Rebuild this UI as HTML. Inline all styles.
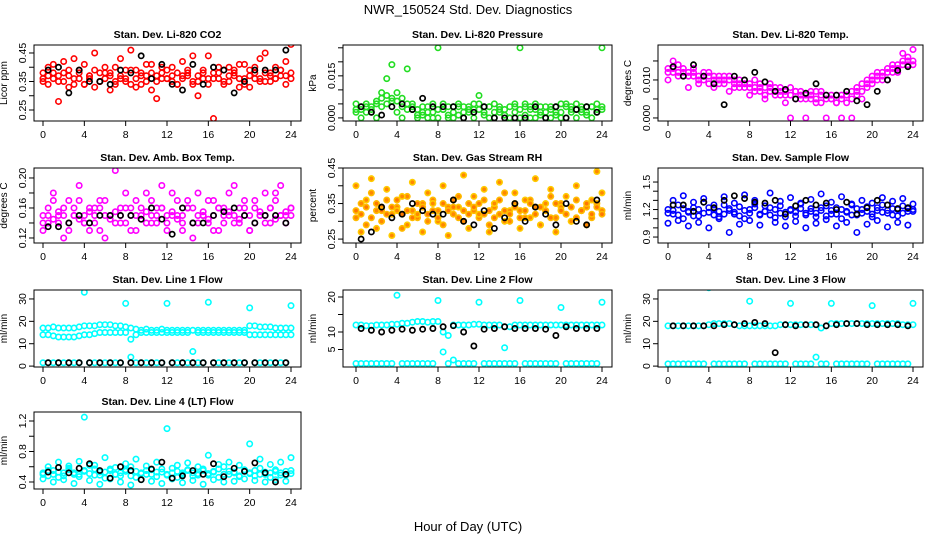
<!DOCTYPE html>
<html><head><meta charset="utf-8">
<style>
body{margin:0;background:#fff;}
svg{display:block;font-family:"Liberation Sans",Arial,sans-serif;}
</style></head>
<body>
<svg id="chart" width="936" height="540" viewBox="0 0 936 540">
<rect width="936" height="540" fill="#fff"/>
<text x="468" y="14" text-anchor="middle" font-size="13">NWR_150524  Std. Dev. Diagnostics</text>
<text x="468" y="531" text-anchor="middle" font-size="13">Hour of Day (UTC)</text>
</svg>
<script>
const hourTicks = [0,4,8,12,16,20,24];

// Panel 1: CO2
const co2A = [.38,.40,.36,.35,.42,.37,.34,.39,.41,.36,.33,.38,.40,.37,.35,.43,.36,.34,.39,.38,.41,.32,.37,.40,.36,.35,.38,.42,.37,.34,.30,.39,.44,.36,.38,.35,.40,.37,.33,.41,.39,.36,.43,.38,.35,.40,.37,.42,.36];
const co2B = [.35,.37,.41,.28,.38,.33,.43,.36,.34,.37,.45,.35,.38,.32,.40,.36,.39,.46,.33,.37,.35,.41,.29,.38,.36,.40,.34,.37,.39,.44,.35,.38,.36,.22,.40,.34,.37,.39,.41,.36,.33,.38,.35,.45,.37,.36,.39,.34,.48];
const co2C = [.36,.34,.38,.37,.35,.39,.36,.38,.34,.37,.39,.35,.36,.38,.34,.37,.35,.39,.36,.34,.37,.38,.35,.36,.39,.37,.34,.36,.38,.35,.37,.36,.34,.38,.36,.39,.35,.38,.36,.34,.37,.40,.36,.35,.38,.36,.39,.37,.38];
const co2Black = [.39,.40,.31,.39,.35,.35,.34,.39,.38,.44,.36,.41,.34,.32,.41,.34,.40,.39,.31,.35,.39,.39,.39,.46];
// Panel 2: Pressure
const presA = [.005,.003,.004,.002,.005,.004,.014,.019,.006,.004,.0175,.003,.001,.002,.004,.005,.003,.005,.001,.004,.005,.002,.004,.003,.005,.001,.004,.005,.002,.001,.004,.005,.003,.001,.004,.005,.002,.004,.003,.001,.005,.004,.002,.005,.003,.001,.004,.005,.003];
const presB = [.002,.000,.005,.003,.000,.009,.005,.007,.002,.000,.003,.005,.000,.004,.002,.000,.025,.003,.000,.002,.004,.000,.003,.005,.008,.002,.004,.000,.003,.001,.000,.004,.025,.005,.000,.003,.001,.000,.004,.002,.000,.005,.003,.000,.002,.004,.000,.003,.025];
const presC = [.003,.004,.002,.004,.006,.007,.008,.006,.009,.007,.005,.004,.003,.001,.000,.002,.000,.003,.004,.000,.001,.004,.002,.000,.003,.004,.000,.002,.004,.003,.000,.002,.000,.004,.003,.000,.004,.002,.000,.004,.002,.000,.004,.003,.004,.002,.004,.002,.004];
const presBlack = [.004,.002,.001,.004,.005,.003,.007,.004,.004,.004,.000,.002,.004,.000,.000,.000,.000,.004,.000,.004,.000,.003,.004,.002];
// Panel 3: Li-820 temp
const tempA = [.012,.013,.014,.013,.012,.011,.011,.012,.011,.010,.011,.010,.010,.009,.010,.009,.008,.008,.009,.008,.007,.007,.008,.007,.006,.007,.006,.006,.007,.005,.006,.006,.005,.006,.005,.006,.007,.008,.009,.010,.011,.012,.011,.013,.014,.014,.015,.016,.014];
const tempB = [.010,.015,.011,.012,.008,.013,.009,.010,.012,.008,.009,.011,.007,.010,.008,.009,.006,.010,.007,.005,.009,.008,.006,.004,.000,.007,.005,.000,.006,.004,.007,.000,.005,.004,.000,.006,.000,.007,.005,.008,.009,.010,.012,.010,.013,.012,.017,.015,.018];
const tempC = [.013,.012,.012,.011,.011,.012,.010,.011,.009,.011,.010,.009,.011,.008,.009,.008,.009,.007,.008,.006,.008,.006,.007,.006,.008,.005,.007,.005,.005,.007,.004,.005,.006,.004,.006,.004,.005,.006,.007,.009,.010,.011,.010,.012,.012,.013,.014,.014,.015];
const tempBlack = [.0135,.011,.014,.011,.009,.0035,.011,.010,.012,.0095,.007,.0075,.005,.0065,.009,.006,.006,.007,.0045,.0035,.007,.010,.0125,.0135];
// Panel 4: Amb box temp
const ambA = [.15,.14,.17,.15,.16,.13,.15,.17,.14,.16,.15,.13,.17,.15,.14,.16,.18,.15,.13,.16,.14,.17,.15,.16,.14,.18,.15,.13,.17,.16,.14,.15,.17,.13,.16,.15,.18,.14,.16,.15,.13,.17,.15,.14,.16,.18,.15,.14,.16];
const ambB = [.13,.16,.18,.14,.12,.17,.15,.19,.14,.13,.16,.17,.12,.15,.21,.14,.16,.13,.17,.15,.18,.14,.16,.19,.13,.15,.17,.14,.16,.12,.18,.15,.14,.17,.13,.16,.15,.19,.14,.17,.13,.16,.15,.18,.14,.17,.19,.15,.16];
const ambC = [.14,.15,.145,.155,.15,.14,.16,.145,.15,.155,.14,.16,.15,.145,.155,.15,.14,.16,.15,.145,.155,.15,.14,.16,.15,.155,.145,.15,.16,.14,.15,.155,.145,.15,.16,.14,.155,.15,.145,.16,.15,.14,.155,.15,.16,.145,.15,.155,.15];
const ambBlack = [.135,.135,.14,.15,.14,.15,.15,.15,.15,.145,.16,.145,.125,.16,.14,.14,.15,.155,.16,.15,.14,.15,.15,.14];
// Panel 5: RH
const rhA = [.31,.35,.29,.38,.33,.30,.36,.32,.34,.28,.37,.33,.31,.35,.30,.36,.33,.29,.34,.32,.37,.30,.35,.33,.31,.36,.29,.34,.32,.38,.30,.35,.33,.31,.36,.34,.29,.33,.37,.31,.35,.32,.30,.36,.33,.34,.31,.35,.33];
const rhB = [.40,.27,.36,.42,.28,.34,.39,.26,.33,.37,.29,.41,.32,.27,.38,.35,.30,.40,.26,.36,.34,.43,.28,.37,.32,.39,.27,.35,.41,.30,.33,.38,.28,.36,.31,.42,.29,.35,.39,.27,.34,.37,.30,.40,.33,.29,.36,.44,.38];
const rhC = [.33,.32,.34,.31,.35,.33,.32,.34,.36,.32,.33,.31,.35,.34,.32,.33,.31,.35,.33,.34,.31,.33,.32,.34,.35,.32,.33,.31,.36,.33,.32,.34,.31,.33,.35,.32,.34,.33,.31,.35,.33,.32,.34,.31,.33,.35,.32,.34,.32];
const rhBlack = [.25,.27,.34,.31,.32,.35,.33,.32,.32,.36,.30,.29,.33,.28,.31,.35,.30,.34,.32,.29,.35,.30,.29,.36];
// Panel 6: Sample flow
const sfA = [1.20,1.15,1.25,1.10,1.18,1.22,1.13,1.28,1.17,1.21,1.12,1.25,1.19,1.15,1.23,1.10,1.20,1.26,1.14,1.18,1.22,1.11,1.24,1.17,1.20,1.13,1.27,1.16,1.21,1.12,1.19,1.24,1.15,1.22,1.10,1.18,1.26,1.14,1.20,1.23,1.12,1.19,1.25,1.16,1.21,1.13,1.24,1.18,1.20];
const sfB = [1.05,1.30,1.08,1.35,1.02,1.28,1.06,1.32,1.00,1.25,1.10,1.34,0.95,1.27,1.04,1.36,1.08,1.30,1.03,1.24,1.38,1.06,1.29,1.02,1.33,1.07,1.26,1.00,1.31,1.05,1.37,1.09,1.28,1.02,1.34,1.06,1.25,0.95,1.30,1.04,1.27,1.08,1.33,1.01,1.29,1.06,1.32,1.03,1.26];
const sfC = [1.16,1.19,1.14,1.21,1.17,1.13,1.20,1.16,1.22,1.14,1.18,1.15,1.21,1.17,1.13,1.19,1.16,1.22,1.15,1.18,1.14,1.20,1.16,1.12,1.19,1.17,1.21,1.14,1.18,1.16,1.22,1.13,1.19,1.15,1.20,1.17,1.14,1.21,1.16,1.18,1.15,1.22,1.17,1.19,1.14,1.20,1.16,1.21,1.18];
const sfBlack = [1.25,1.25,1.18,1.28,1.22,1.30,1.35,1.32,1.28,1.27,1.30,1.15,1.24,1.30,1.25,1.27,1.20,1.28,1.15,1.22,1.30,1.25,1.21,1.22];
// Panel 7: Line 1 flow
const l1A = [17,17,17.5,17,17,17,17,17.5,18,18,18,18.5,18.5,18.5,18,18,17.5,17,16.5,16,16.5,16,16,16.5,16,16,16,16,16,16,16,16,16,16,16,16,16,16,16,16,18,18,17.5,17.5,17.5,17,17,17,17];
const l1B = [14,14,13.5,13,13,13,13,13.5,14,14,14.5,15,15,15,15,15,15,12,14,15,15,15,15,15,15,15,15,15,15,6.5,15,15,15,15,15,15,15,15,15,15,14,14,14,14,14,14,14,14,14];
const l1C = [1.5,1.5,1.5,1.5,1.5,1.5,1.5,1.5,33,1.5,1.5,1.5,1.5,1.5,1.5,1.5,28,4,1.5,1.5,1.5,1.5,1.5,1.5,28,1.5,1.5,1.5,1.5,1.5,1.5,1.5,28.5,1.5,1.5,1.5,1.5,1.5,1.5,1.5,26,1.5,1.5,1.5,1.5,1.5,1.5,1.5,27];
const l1Black = [1.5,1.5,1.5,1.5,1.5,1.5,1.5,1.5,1.5,1.5,1.5,1.5,1.5,1.5,1.5,1.5,1.5,1.5,1.5,1.5,1.5,1.5,1.5,1.5];
// Panel 8: Line 2 flow
const l2A = [12,12,11.8,11.8,12,12,12,12.2,12.2,12.5,12.5,12.8,13,13,12.8,13,13,10,9,12,12,12,12,12.2,12.2,12,12,12,12,5.5,11.5,12,12,12,12,12,12,12,12,12,12,12,12,12,12,12,12,12,12];
const l2C = [1,1,1,1,1,1,1,1,20.5,1,1,1,1,1,1,1,19,4.3,1,2,1,1,1,1,18.5,1,1,1,1,1,1,1,19,1,1,1,1,1,1,1,17,1,1,1,1,1,1,1,18.5];
const l2Black = [11,10.5,10,10.5,10.8,10.5,10.8,11,11.5,11.8,10,6,10.8,11,11.5,11,11,11,10.8,9,11.5,11,11,11];
// Panel 9: Line 3 flow
const l3A = [18,18,18,18,18,18,18,18,18.5,19,19,19,19,18.5,18,18,18,18,18,18,18,18,18.5,18.5,18.5,18.5,18.5,18.5,18.5,18.5,17,18,19,19,19,19,19,19,19,19,19,19,19,19,19,19,18.5,18.5,18.5];
const l3C = [1,1,1,1,1,1,1,1,35,1,1,1,1,1,1,1,29,1,1,1,1,1,1,1,28,1,1,1,1,4,1,1,28,1,1,1,1,1,1,1,27,1,1,1,1,1,1,1,28];
const l3Black = [18,18,18,18,18,18.5,18.5,19,19.5,19,6,18.5,18,18.5,18.5,18,18.5,19,19,18.5,18.5,18.5,18.5,18];
// Panel 10: Line 4 flow
const l4A = [.50,.48,.55,.46,.52,.58,.50,.47,.55,.62,.49,.53,.45,.57,.50,.48,.54,.60,.46,.52,.50,.56,.47,.53,.50,.58,.46,.52,.55,.48,.51,.57,.49,.54,.46,.60,.50,.53,.47,.55,.52,.48,.58,.50,.46,.54,.52,.49,.55];
const l4B = [.44,.60,.40,.66,.43,.61,.38,.67,1.25,.42,.62,.37,.72,.44,.59,.40,.64,.36,.70,.43,.61,.41,.66,.38,1.10,.44,.62,.39,.65,.42,.60,.37,.75,.43,.63,.40,.66,.41,.62,.44,.90,.42,.70,.40,.63,.43,.66,.41,.72];
const l4C = [.52,.55,.50,.53,.48,.56,.52,.50,.54,.51,.57,.49,.53,.55,.50,.52,.56,.48,.54,.51,.55,.50,.53,.57,.49,.52,.54,.50,.56,.52,.49,.55,.51,.53,.57,.50,.54,.52,.48,.56,.51,.55,.50,.53,.52,.56,.49,.54,.51];
const l4Black = [.53,.59,.52,.58,.64,.55,.45,.60,.55,.43,.57,.66,.45,.48,.55,.50,.64,.47,.58,.54,.65,.52,.40,.50];

const svg = document.getElementById('chart');
const NS = 'http://www.w3.org/2000/svg';
const cols = [{l:34,r:301,x0:43,x1:291},{l:343,r:612,x0:356,x1:602},{l:658,r:923,x0:668,x1:913}];
const rows = [{t:45,b:121},{t:168,b:243},{t:290,b:367},{t:412,b:489}];

function mk(tag, attrs, parent){
  const e = document.createElementNS(NS, tag);
  for (const k in attrs) e.setAttribute(k, attrs[k]);
  (parent||svg).appendChild(e);
  return e;
}

function panel(key, title, ylab, col, row, yLo, yHi, yTicks, yLabels, colored, black){
  const C = cols[col], R = rows[row];
  const g = mk('g', {});
  
  
  const xs = h => C.x0 + (C.x1 - C.x0) * h / 24;
  const ys = v => R.b - (R.b - R.t) * (v - yLo) / (yHi - yLo);
  const tt = mk('text', {x:(C.l+C.r)/2, y:R.t-7, 'text-anchor':'middle', 'font-size':10.5, 'font-weight':'bold'}, g);
  tt.textContent = title;
  
  
  const yl = mk('text', {x:0, y:0, 'text-anchor':'middle', 'font-size':10, transform:`translate(${C.l-27},${(R.t+R.b)/2}) rotate(-90)`}, g);
  yl.textContent = ylab;
  
  
  hourTicks.forEach(h => {
    const x = xs(h);
    mk('line', {x1:x, x2:x, y1:R.b, y2:R.b+5, stroke:'#000'}, g);
    const t = mk('text', {x:x, y:R.b+17, 'text-anchor':'middle', 'font-size':10.5}, g);
    t.textContent = h;
    
    
  });
  mk('line', {x1:xs(0), x2:xs(24), y1:R.b, y2:R.b, stroke:'#000'}, g);
  yTicks.forEach(v => {
    const y = ys(v);
    mk('line', {x1:C.l, x2:C.l-5, y1:y, y2:y, stroke:'#000'}, g);
  });
  yLabels.forEach(v => {
    const y = ys(v);
    const t = mk('text', {x:0, y:0, 'text-anchor':'middle', 'font-size':10.5, transform:`translate(${C.l-8},${y}) rotate(-90)`}, g);
    t.textContent = (typeof v === 'number' && yLabels.fmt) ? v.toFixed(yLabels.fmt) : String(v);
    
    
  });
  const clipId = 'clip-' + key;
  const cp = mk('clipPath', {id:clipId}, g);
  mk('rect', {x:C.l, y:R.t, width:C.r-C.l, height:R.b-R.t}, cp);
  const pts = mk('g', {'clip-path':`url(#${clipId})`}, g);
  colored.forEach(s => {
    s.vals.forEach((v, i) => {
      const c = mk('circle', {cx:xs(i * 24 / (s.vals.length - 1)), cy:ys(v), r:2.7, fill:s.fill||'none', stroke:s.color, 'stroke-width':1.6}, pts);
      
      
    });
  });
  black.forEach((v, i) => {
    const c = mk('circle', {cx:xs(0.5 + i), cy:ys(v), r:2.6, fill:'none', stroke:'#000', 'stroke-width':1.7}, pts);
    
    
  });
  const box = mk('rect', {x:C.l, y:R.t, width:C.r-C.l, height:R.b-R.t, fill:'none', stroke:'#000'}, g);
  
  
}
function lab(arr, fmt){ arr.fmt = fmt; return arr; }

panel('co2','Stan. Dev. Li-820 CO2','Licor ppm',0,0,0.2114,0.478,[.25,.30,.35,.40,.45],lab([.25,.35,.45],2),[{vals:co2A,color:'#ff0000'},{vals:co2B,color:'#ff0000'},{vals:co2C,color:'#ff0000'}],co2Black);
panel('pressure','Stan. Dev. Li-820 Pressure','kPa',1,0,-0.0011,0.026,[0,.005,.01,.015,.02,.025],lab([0,.015],3),[{vals:presA,color:'#22dd22'},{vals:presB,color:'#22dd22'},{vals:presC,color:'#22dd22'}],presBlack);
panel('li820-temp','Stan. Dev. Li-820 Temp.','degrees C',2,0,-0.0008,0.0192,[0,.005,.01,.015],lab([0,.01],3),[{vals:tempA,color:'#ff00ff'},{vals:tempB,color:'#ff00ff'},{vals:tempC,color:'#ff00ff'}],tempBlack);
panel('amb-temp','Stan. Dev. Amb. Box Temp.','degrees C',0,1,0.1133,0.2133,[.12,.14,.16,.18,.20],lab([.12,.16,.20],2),[{vals:ambA,color:'#ff00ff'},{vals:ambB,color:'#ff00ff'},{vals:ambC,color:'#ff00ff'}],ambBlack);
panel('rh','Stan. Dev. Gas Stream RH','percent',1,1,0.239,0.45,[.25,.30,.35,.40,.45],lab([.25,.35,.45],2),[{vals:rhA,color:'#ffbb00',fill:'#ff8800'},{vals:rhB,color:'#ffcc00',fill:'#ff8800'},{vals:rhC,color:'#ffbb00',fill:'#ff7700'}],rhBlack);
panel('sample-flow','Stan. Dev. Sample Flow','ml/min',2,1,0.835,1.653,[.9,1.0,1.1,1.2,1.3,1.4,1.5],lab([.9,1.2,1.5],1),[{vals:sfA,color:'#0000ff'},{vals:sfB,color:'#0000ff'},{vals:sfC,color:'#0000ff'}],sfBlack);
panel('line1','Stan. Dev. Line 1 Flow','ml/min',0,2,-0.4,34,[0,10,20,30],lab([0,10,20,30],0),[{vals:l1A,color:'#00ffff'},{vals:l1B,color:'#00ffff'},{vals:l1C,color:'#00ffff'}],l1Black);
panel('line2','Stan. Dev. Line 2 Flow','ml/min',1,2,0,22,[5,10,15,20],lab([5,10,20],0),[{vals:l2A,color:'#00ffff'},{vals:l2C,color:'#00ffff'}],l2Black);
panel('line3','Stan. Dev. Line 3 Flow','ml/min',2,2,-0.4,34,[0,10,20,30],lab([0,10,20,30],0),[{vals:l3A,color:'#00ffff'},{vals:l3C,color:'#00ffff'}],l3Black);
panel('line4','Stan. Dev. Line 4 (LT) Flow','ml/min',0,3,0.308,1.318,[.4,.6,.8,1.0,1.2],lab([.4,.8,1.2],1),[{vals:l4A,color:'#00ffff'},{vals:l4B,color:'#00ffff'},{vals:l4C,color:'#00ffff'}],l4Black);
</script>
</body></html>
